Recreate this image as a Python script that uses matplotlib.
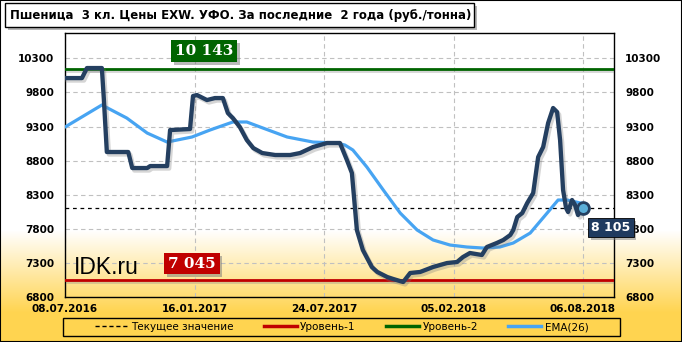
import matplotlib
matplotlib.use('Agg')
import matplotlib.pyplot as plt
import matplotlib.patheffects as pe
from matplotlib.patches import Rectangle
from matplotlib.lines import Line2D
import numpy as np

W, H, DPI = 682, 342, 100

title = "Пшеница  3 кл. Цены EXW. УФО. За последние  2 года (руб./тонна)"
date_labels = ['08.07.2016', '16.01.2017', '24.07.2017', '05.02.2018', '06.08.2018']
date_weeks = [0, 26, 52, 78, 104]
y_ticks = [6800, 7300, 7800, 8300, 8800, 9300, 9800, 10300]

price_weeks = [0, 3.4, 4.4, 7.4, 7.8, 8.4, 12.7, 13.5, 16.5, 17.1, 20.5, 21.1, 25.1,
               25.7, 26.5, 28.5, 30.1, 31.7, 32.7, 33.7, 35.1, 36.5, 37.8, 39.6, 42.2,
               45.2, 47.2, 49.8, 52.6, 55.2, 56.6, 57.6, 58.2, 58.6, 59.8, 61.6, 62.7,
               64.7, 65.9, 67.9, 69.3, 71.3, 73.9, 76.7, 78.7, 79.9, 81.3, 83.7, 84.7,
               86.7, 88.0, 89.4, 90.0, 90.8, 91.8, 92.8, 94.0, 95.0, 96.0, 97.0, 98.0,
               98.8, 99.4, 100.0, 100.6, 101.0, 101.8, 102.4, 103.0, 104.0]
price_values = [10010, 10010, 10157, 10157, 9700, 8926, 8926, 8691, 8691, 8720, 8720, 9248, 9263,
                9747, 9761, 9688, 9717, 9717, 9497, 9424, 9292, 9102, 8984, 8911, 8882,
                8882, 8911, 8999, 9058, 9058, 8808, 8618, 8119, 7782, 7489, 7240, 7167,
                7093, 7064, 7020, 7152, 7167, 7240, 7298, 7313, 7386, 7445, 7416, 7533,
                7592, 7636, 7709, 7782, 7973, 8031, 8178, 8325, 8852, 8999, 9351, 9571,
                9512, 9102, 8369, 8105, 8046, 8222, 8149, 8002, 8105]

ema_weeks = [0, 7.4, 12.4, 16.5, 20.5, 25.5, 29.1, 33.7, 36.5, 39.2, 44.6, 49.8, 54.6,
             56.2, 57.8, 60.6, 63.9, 67.3, 70.7, 73.9, 77.3, 80.7, 83.9, 87.3, 90.0,
             93.4, 96.8, 99.0, 100.8, 104.0]
ema_values = [9292, 9615, 9424, 9204, 9072, 9146, 9248, 9366, 9366, 9292, 9146, 9072, 9058,
              9028, 8955, 8706, 8369, 8031, 7782, 7636, 7562, 7533, 7518, 7533, 7592,
              7738, 8031, 8222, 8222, 8170]

level1 = 7045
level2 = 10143
current = price_values[-1]


def fmt(v):
    return f"{v:,}".replace(",", " ")


fig = plt.figure(figsize=(W / DPI, H / DPI), dpi=DPI)
fig.patch.set_facecolor('white')

# background gradient
bg = fig.add_axes([0, 0, 1, 1], zorder=-10)
rows = np.arange(H)
t = np.clip((rows - 230) / (312 - 230), 0, 1)
top = np.array([1.0, 1.0, 1.0])
bot = np.array([255, 212, 80]) / 255.0
img = (top[None, :] * (1 - t[:, None]) + bot[None, :] * t[:, None])[:, None, :]
bg.imshow(img, extent=[0, 1, 0, 1], aspect='auto', origin='upper')
bg.set_xlim(0, 1)
bg.set_ylim(0, 1)
bg.axis('off')

# main axes
ax = fig.add_axes([65 / W, 1 - 297 / H, (614 - 65) / W, (297 - 33) / H])
ax.set_facecolor('none')
ax.set_xlim(0, 104 * (614 - 65) / (583 - 65))
ax.set_ylim(6800, 6800 + (297 - 33) * 500 / 34.1)
ax.set_xticks(date_weeks)
ax.set_xticklabels(date_labels)
ax.set_yticks(y_ticks)
ax.set_yticklabels([str(v) for v in y_ticks])
ax.tick_params(axis='both', length=0, labelsize=7.5)
ax.tick_params(axis='y', labelright=True, pad=8)
ax.tick_params(axis='x', pad=5)
for lab in ax.get_xticklabels() + ax.get_yticklabels():
    lab.set_fontweight('bold')
for tl in ax.yaxis.get_major_ticks():
    tl.label2.set_fontweight('bold')
    tl.label2.set_fontsize(7.5)
ax.grid(True, color='#C0C0C0', linestyle=(0, (4, 3)), linewidth=0.8)
for s in ax.spines.values():
    s.set_linewidth(1.0)
    s.set_color('black')

shadow = [pe.SimpleLineShadow(offset=(1.2, -1.5), shadow_color='#888888', alpha=0.35), pe.Normal()]

ax.axhline(level2, color='#006400', lw=2.0, path_effects=shadow, zorder=3)
ax.axhline(level1, color='#C00000', lw=2.0, path_effects=shadow, zorder=3)
ax.axhline(current, color='black', lw=0.9, ls=(0, (3, 3)), zorder=3)

ax.plot(ema_weeks, ema_values, color='#47A4F2', lw=2.3, solid_joinstyle='round',
        solid_capstyle='round', zorder=4)
ax.plot(price_weeks, price_values, color='#243F60', lw=3.1, solid_joinstyle='round',
        solid_capstyle='round',
        path_effects=[pe.SimpleLineShadow(offset=(1.5, -1.8), shadow_color='#777777', alpha=0.3), pe.Normal()],
        zorder=5)
ax.plot([price_weeks[-1]], [current], 'o', ms=8.5, mfc='#5BAFD8', mec='#243F60', mew=2.0, zorder=6)

box_shadow = [pe.withSimplePatchShadow(offset=(2, -2), shadow_rgbFace='#777777', alpha=0.5)]

a2 = ax.annotate(fmt(level2), xy=(28, level2), xytext=(0, 13), textcoords='offset points',
                 ha='center', va='center', color='white', fontsize=11, fontweight='bold',
                 family='DejaVu Serif',
                 bbox=dict(boxstyle='square,pad=0.25', fc='#006400', ec='none'), zorder=7)
a2.get_bbox_patch().set_path_effects(box_shadow)
a1 = ax.annotate(fmt(level1), xy=(25.5, level1), xytext=(0, 12), textcoords='offset points',
                 ha='center', va='center', color='white', fontsize=11, fontweight='bold',
                 family='DejaVu Serif',
                 bbox=dict(boxstyle='square,pad=0.25', fc='#C00000', ec='none'), zorder=7)
a1.get_bbox_patch().set_path_effects(box_shadow)
a3 = ax.annotate(fmt(current), xy=(price_weeks[-1], current), xytext=(6, -14), textcoords='offset points',
                 ha='left', va='center', color='white', fontsize=9, fontweight='bold',
                 bbox=dict(boxstyle='square,pad=0.25', fc='#1F3A5F', ec='black', lw=0.6), zorder=8,
                 annotation_clip=False)
a3.get_bbox_patch().set_path_effects(box_shadow)

ax.text(1.8, 7140, 'IDK.ru', fontsize=16.5, family='Liberation Sans', color='black',
        ha='left', va='baseline', zorder=7)

# title box
tb = Rectangle((5 / W, 1 - 27 / H), 469 / W, 24 / H, transform=fig.transFigure,
               facecolor='white', edgecolor='black', lw=1.0, zorder=5,
               path_effects=[pe.withSimplePatchShadow(offset=(2.5, -2.5), shadow_rgbFace='#888888', alpha=0.6)])
fig.patches.append(tb)
fig.text(10 / W, 1 - 15 / H, title, ha='left', va='center', fontsize=8.5, fontweight='bold',
         color='black', zorder=6)

# legend
handles = [Line2D([], [], color='black', lw=1.0, ls=(0, (3, 2))),
           Line2D([], [], color='#C00000', lw=2.5),
           Line2D([], [], color='#006400', lw=2.5),
           Line2D([], [], color='#47A4F2', lw=2.5)]
labels = ['Текущее значение', 'Уровень-1', 'Уровень-2', 'EMA(26)']
leg = fig.legend(handles, labels, loc='center', bbox_to_anchor=((63 + 620) / 2 / W, 1 - 327 / H),
                 ncol=4, frameon=False, fontsize=7.5, handlelength=3.2, handletextpad=0.3,
                 columnspacing=2.9, borderpad=0.2, borderaxespad=0)
fig.patches.append(Rectangle((63 / W, 1 - 336 / H), 557 / W, 18 / H, transform=fig.transFigure,
                             fill=False, edgecolor='black', lw=1.0, zorder=5))

# figure border
fig.patches.append(Rectangle((0, 0), 1, 1, transform=fig.transFigure, fill=False,
                             edgecolor='black', lw=1.5, zorder=10))

fig.savefig('out.png', dpi=DPI)
